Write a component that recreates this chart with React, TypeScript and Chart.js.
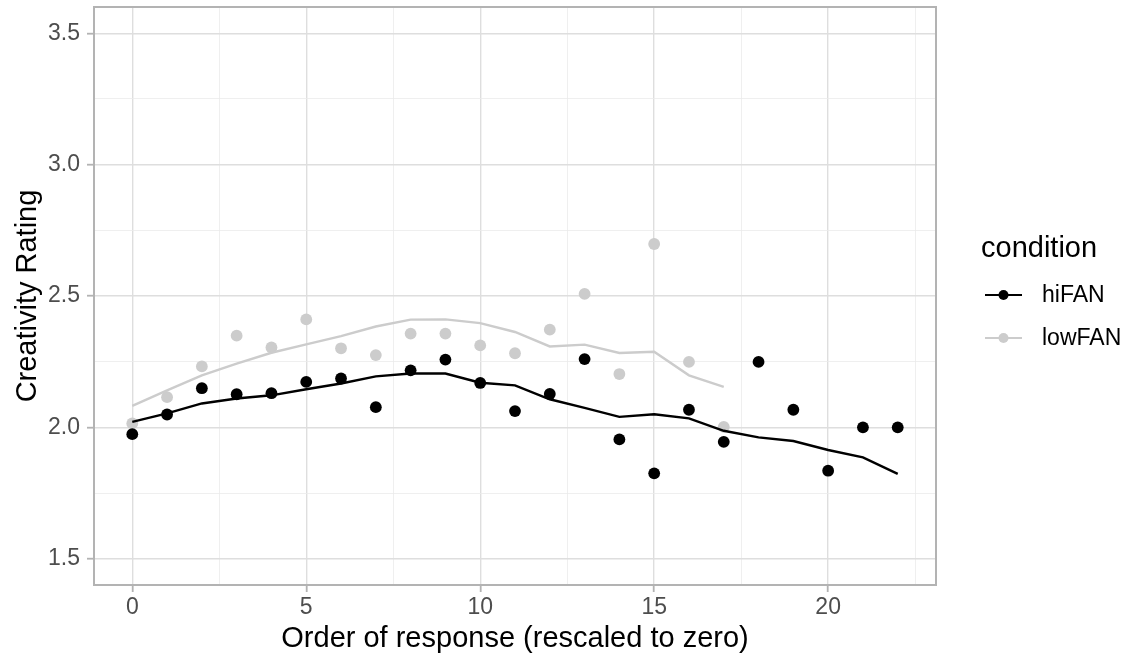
import React, { useEffect, useRef } from "react";
import { Chart, registerables } from "chart.js";

Chart.register(...registerables);

// ---- data ----
const hiX = [0, 1, 2, 3, 4, 5, 6, 7, 8, 9, 10, 11, 12, 13, 14, 15, 16, 17, 18, 19, 20, 21, 22];
const hiPoints = [1.974, 2.049, 2.149, 2.126, 2.13, 2.173, 2.186, 2.077, 2.217, 2.258, 2.169, 2.062, 2.127, 2.26, 1.954, 1.825, 2.067, 1.945, 2.249, 2.067, 1.835, 2.0, 2.0];
const hiLine = [2.021, 2.053, 2.091, 2.11, 2.122, 2.145, 2.167, 2.194, 2.205, 2.205, 2.17, 2.16, 2.107, 2.074, 2.04, 2.05, 2.034, 1.987, 1.962, 1.948, 1.914, 1.886, 1.823];

const loX = [0, 1, 2, 3, 4, 5, 6, 7, 8, 9, 10, 11, 12, 13, 14, 15, 16, 17];
const loPoints = [2.015, 2.115, 2.232, 2.349, 2.304, 2.411, 2.301, 2.275, 2.357, 2.357, 2.312, 2.282, 2.372, 2.508, 2.203, 2.698, 2.249, 2.002];
const loLine = [2.082, 2.141, 2.198, 2.243, 2.284, 2.316, 2.347, 2.384, 2.41, 2.411, 2.397, 2.363, 2.308, 2.315, 2.283, 2.288, 2.198, 2.154];

const xMajorTicks = [0, 5, 10, 15, 20];
const xMinorTicks = [2.5, 7.5, 12.5, 17.5, 22.5];
const yMajorTicks = [1.5, 2.0, 2.5, 3.0, 3.5];
const yMinorTicks = [1.75, 2.25, 2.75, 3.25];

const seriesNames = ["hiFAN", "lowFAN"];
const seriesColors = ["#000000", "#cccccc"];
const legendTitle = "condition";
const xTitle = "Order of response (rescaled to zero)";
const yTitle = "Creativity Rating";

const FONT = '"Liberation Sans", Arial, Helvetica, sans-serif';

const toXY = (xs: number[], ys: number[]) => xs.map((x, i) => ({ x, y: ys[i] }));
const isIn = (arr: number[], v: number) => arr.some((a) => Math.abs(a - v) < 1e-9);

const panelAndLegend = {
  id: "panelAndLegend",
  afterDraw(chart: any) {
    const { ctx, chartArea: a } = chart;
    ctx.save();
    ctx.strokeStyle = "#b3b3b3";
    ctx.lineWidth = 2;
    ctx.strokeRect(a.left, a.top, a.right - a.left, a.bottom - a.top);

    // legend
    ctx.fillStyle = "#000000";
    ctx.font = `29px ${FONT}`;
    ctx.textBaseline = "alphabetic";
    ctx.textAlign = "left";
    ctx.fillText(legendTitle, 981, 257);
    const keyYs = [295, 338];
    seriesNames.forEach((name, i) => {
      const y = keyYs[i];
      ctx.strokeStyle = seriesColors[i];
      ctx.lineWidth = 2.2;
      ctx.beginPath();
      ctx.moveTo(985, y);
      ctx.lineTo(1022, y);
      ctx.stroke();
      ctx.fillStyle = seriesColors[i];
      ctx.beginPath();
      ctx.arc(1003.5, y, 5, 0, Math.PI * 2);
      ctx.fill();
      ctx.fillStyle = "#000000";
      ctx.font = `23px ${FONT}`;
      ctx.fillText(name, 1042, y + 6.5);
    });
    ctx.restore();
  },
};

export default function App() {
  const ref = useRef<HTMLCanvasElement>(null);
  useEffect(() => {
    if (!ref.current) return;
    Chart.defaults.font.family = FONT;
    const chart = new Chart(ref.current, {
      type: "scatter",
      data: {
        datasets: [
          {
            label: seriesNames[0] + " fit",
            data: toXY(hiX, hiLine),
            showLine: true,
            borderColor: seriesColors[0],
            borderWidth: 2.4,
            pointRadius: 0,
            tension: 0,
            order: 0,
          },
          {
            label: seriesNames[1] + " fit",
            data: toXY(loX, loLine),
            showLine: true,
            borderColor: seriesColors[1],
            borderWidth: 2.4,
            pointRadius: 0,
            tension: 0,
            order: 1,
          },
          {
            label: seriesNames[0],
            data: toXY(hiX, hiPoints),
            backgroundColor: seriesColors[0],
            borderWidth: 0,
            pointRadius: 5.9,
            order: 2,
          },
          {
            label: seriesNames[1],
            data: toXY(loX, loPoints),
            backgroundColor: seriesColors[1],
            borderWidth: 0,
            pointRadius: 5.9,
            order: 3,
          },
        ],
      },
      options: {
        animation: false,
        responsive: false,
        maintainAspectRatio: false,
        devicePixelRatio: 1,
        layout: { padding: { left: 0, right: 189, top: 7, bottom: 0 } },
        plugins: { legend: { display: false }, tooltip: { enabled: false } },
        scales: {
          x: {
            type: "linear",
            min: -1.1,
            max: 23.1,
            afterBuildTicks: (s: any) => {
              s.ticks = [...xMajorTicks, ...xMinorTicks].sort((a, b) => a - b).map((v) => ({ value: v }));
            },
            afterFit: (s: any) => {
              s.height = 68;
              s.paddingLeft = 0;
              s.paddingRight = 0;
              s.paddingTop = 0;
              s.paddingBottom = 0;
            },
            border: { display: false },
            grid: {
              color: (c: any) => (isIn(xMajorTicks, c.tick?.value) ? "#dedede" : "#ebebeb"),
              lineWidth: (c: any) => (isIn(xMajorTicks, c.tick?.value) ? 1.4 : 0.8),
              tickColor: (c: any) => (isIn(xMajorTicks, c.tick?.value) ? "#b3b3b3" : "rgba(0,0,0,0)"),
              tickWidth: 1.8,
              tickLength: 7,
              drawTicks: true,
            },
            ticks: {
              autoSkip: false,
              maxRotation: 0,
              padding: 2,
              color: "#4d4d4d",
              font: { size: 23 },
              callback: (v: any) => (isIn(xMajorTicks, v) ? String(v) : ""),
            },
            title: {
              display: true,
              text: xTitle,
              color: "#000000",
              font: { size: 29, lineHeight: 1 },
              padding: { top: 0, bottom: 0 },
            },
          },
          y: {
            type: "linear",
            min: 1.4,
            max: 3.6,
            afterBuildTicks: (s: any) => {
              s.ticks = [...yMajorTicks, ...yMinorTicks].sort((a, b) => a - b).map((v) => ({ value: v }));
            },
            afterFit: (s: any) => {
              s.width = 94;
              s.paddingLeft = 0;
              s.paddingRight = 0;
              s.paddingTop = 0;
              s.paddingBottom = 0;
            },
            border: { display: false },
            grid: {
              color: (c: any) => (isIn(yMajorTicks, c.tick?.value) ? "#dedede" : "#ebebeb"),
              lineWidth: (c: any) => (isIn(yMajorTicks, c.tick?.value) ? 1.4 : 0.8),
              tickColor: (c: any) => (isIn(yMajorTicks, c.tick?.value) ? "#b3b3b3" : "rgba(0,0,0,0)"),
              tickWidth: 1.8,
              tickLength: 7,
              drawTicks: true,
            },
            ticks: {
              autoSkip: false,
              padding: 7,
              color: "#4d4d4d",
              font: { size: 23 },
              callback: (v: any) => (isIn(yMajorTicks, v) ? Number(v).toFixed(1) : ""),
            },
            title: {
              display: true,
              text: yTitle,
              color: "#000000",
              font: { size: 29, lineHeight: 1 },
              padding: { top: 13.5, bottom: 0 },
            },
          },
        },
      },
      plugins: [panelAndLegend],
    } as any);
    return () => chart.destroy();
  }, []);
  return (
    <div style={{ position: "absolute", left: 0, top: 0, width: 1125, height: 653, background: "#ffffff" }}>
      <canvas ref={ref} width={1125} height={653} style={{ width: 1125, height: 653, display: "block" }} />
    </div>
  );
}
